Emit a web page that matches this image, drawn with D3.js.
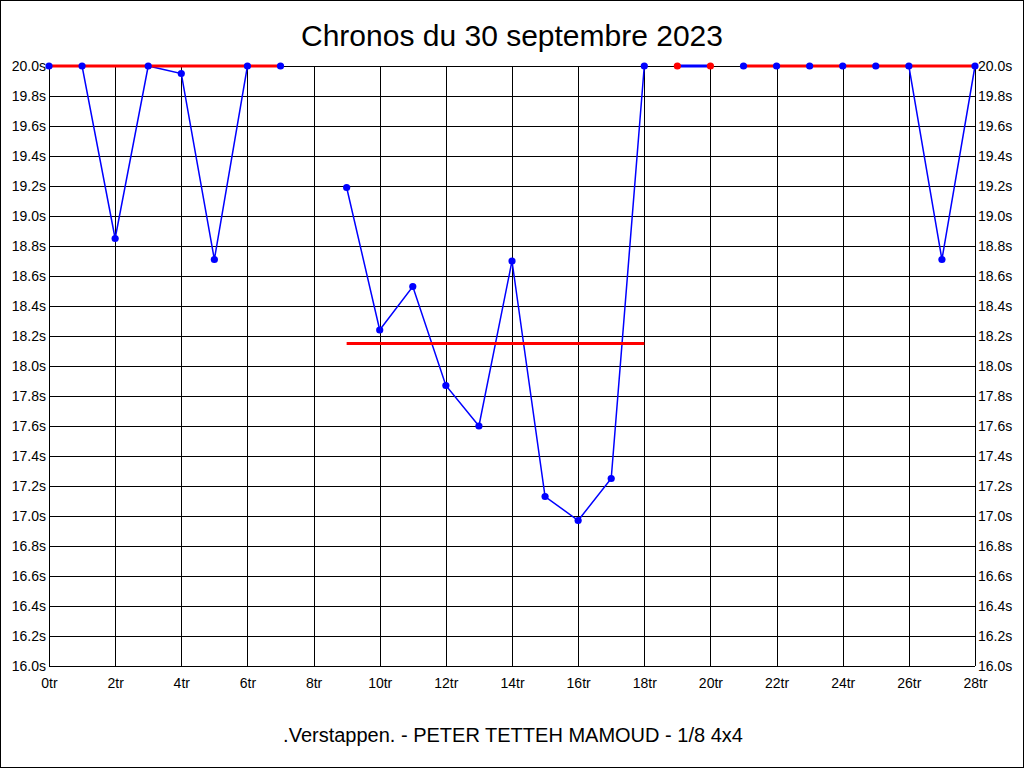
<!DOCTYPE html>
<html>
<head>
<meta charset="utf-8">
<script src="https://cdn.jsdelivr.net/npm/d3@7"></script>
<style>
  body { margin: 0; background: #fff; }
  svg { display: block; font-family: "Liberation Sans", Arial, sans-serif; }
  .grid line { stroke: #000; stroke-width: 1; shape-rendering: crispEdges; }
</style>
</head>
<body>
<svg id="chart" width="1024" height="768"></svg>
<script>
// lap times per lap number (null = no lap)
var laps = d3.range(0, 29);
var times = [20.0, 20.0, 18.85, 20.0, 19.95, 18.71, 20.0, 20.0, null,
             19.19, 18.24, 18.53, 17.87, 17.6, 18.7, 17.13, 16.97, 17.25, 20.0,
             20.0, 20.0,
             20.0, 20.0, 20.0, 20.0, 20.0, 20.0, 18.71, 20.0];
// runs: first and last lap, and the red level line
var runStart = [0, 9, 19, 21];
var runEnd   = [7, 18, 20, 28];
var runLevel = [20.0, 18.15, 20.0, 20.0];
var runLevelStyle = ["line", "line", "dots", "line"];
var xTicks = d3.range(0, 29, 2);
var yTicks = d3.range(0, 21).map(function(i) { return 16 + i * 0.2; });

var title = "Chronos du 30 septembre 2023";
var footer = ".Verstappen. - PETER TETTEH MAMOUD - 1/8 4x4";

var svg = d3.select("#chart");
var margin = {top: 66, right: 49, bottom: 102, left: 49};
var width = 1024 - margin.left - margin.right,
    height = 768 - margin.top - margin.bottom;

// outer frame
svg.append("rect")
  .attr("x", 0.5).attr("y", 0.5)
  .attr("width", 1023).attr("height", 767)
  .attr("fill", "none").attr("stroke", "#000");

svg.append("text")
  .attr("x", 512).attr("y", 46)
  .attr("text-anchor", "middle")
  .attr("font-size", "30px")
  .text(title);

svg.append("text")
  .attr("x", 513).attr("y", 742)
  .attr("text-anchor", "middle")
  .attr("font-size", "20px")
  .text(footer);

var g = svg.append("g").attr("transform", "translate(" + margin.left + "," + margin.top + ")");

var x = d3.scaleLinear().domain([0, 28]).range([0, width]);
var y = d3.scaleLinear().domain([16, 20]).range([height, 0]);

// grid
var grid = g.append("g").attr("class", "grid");
grid.selectAll(".h").data(yTicks).enter().append("line")
  .attr("x1", 0).attr("x2", width)
  .attr("y1", function(d) { return Math.round(y(d)) + 0.5; })
  .attr("y2", function(d) { return Math.round(y(d)) + 0.5; });
grid.selectAll(".v").data(xTicks).enter().append("line")
  .attr("y1", 0).attr("y2", height)
  .attr("x1", function(d) { return Math.round(x(d)) + 0.5; })
  .attr("x2", function(d) { return Math.round(x(d)) + 0.5; });

// axes
var fmtY = function(d) { return d.toFixed(1) + "s"; };
var axL = g.append("g").call(d3.axisLeft(y).tickValues(yTicks).tickFormat(fmtY).tickSize(0).tickPadding(3));
var axR = g.append("g").attr("transform", "translate(" + width + ",0)")
  .call(d3.axisRight(y).tickValues(yTicks).tickFormat(fmtY).tickSize(0).tickPadding(3));
var axB = g.append("g").attr("transform", "translate(0," + height + ")")
  .call(d3.axisBottom(x).tickValues(xTicks).tickFormat(function(d) { return d + "tr"; }).tickSize(0).tickPadding(12));
[axL, axR, axB].forEach(function(a) {
  a.select(".domain").remove();
  a.selectAll("text").attr("fill", "#000")
    .attr("font-family", "Liberation Sans, Arial, sans-serif").attr("font-size", "14px");
});

var line = d3.line()
  .x(function(d) { return x(d); })
  .y(function(d) { return y(times[d]); });

runStart.forEach(function(s, i) {
  var e = runEnd[i];
  var idx = d3.range(s, e + 1);
  var lvl = runLevel[i];
  if (runLevelStyle[i] === "line") {
    g.append("path")
      .datum(idx)
      .attr("fill", "none")
      .attr("stroke", "blue")
      .attr("stroke-width", 1.5)
      .attr("d", line);
    g.append("line")
      .attr("x1", x(s)).attr("x2", x(e))
      .attr("y1", y(lvl)).attr("y2", y(lvl))
      .attr("stroke", "red").attr("stroke-width", 3);
    g.selectAll(null).data(idx).enter().append("circle")
      .attr("cx", function(d) { return x(d); })
      .attr("cy", function(d) { return y(times[d]); })
      .attr("r", 3.6)
      .attr("fill", "blue");
  } else {
    g.append("path")
      .datum(idx)
      .attr("fill", "none")
      .attr("stroke", "blue")
      .attr("stroke-width", 3)
      .attr("d", line);
    g.selectAll(null).data([s, e]).enter().append("circle")
      .attr("cx", function(d) { return x(d); })
      .attr("cy", function(d) { return y(lvl); })
      .attr("r", 3.6)
      .attr("fill", "red");
  }
});
</script>
</body>
</html>
